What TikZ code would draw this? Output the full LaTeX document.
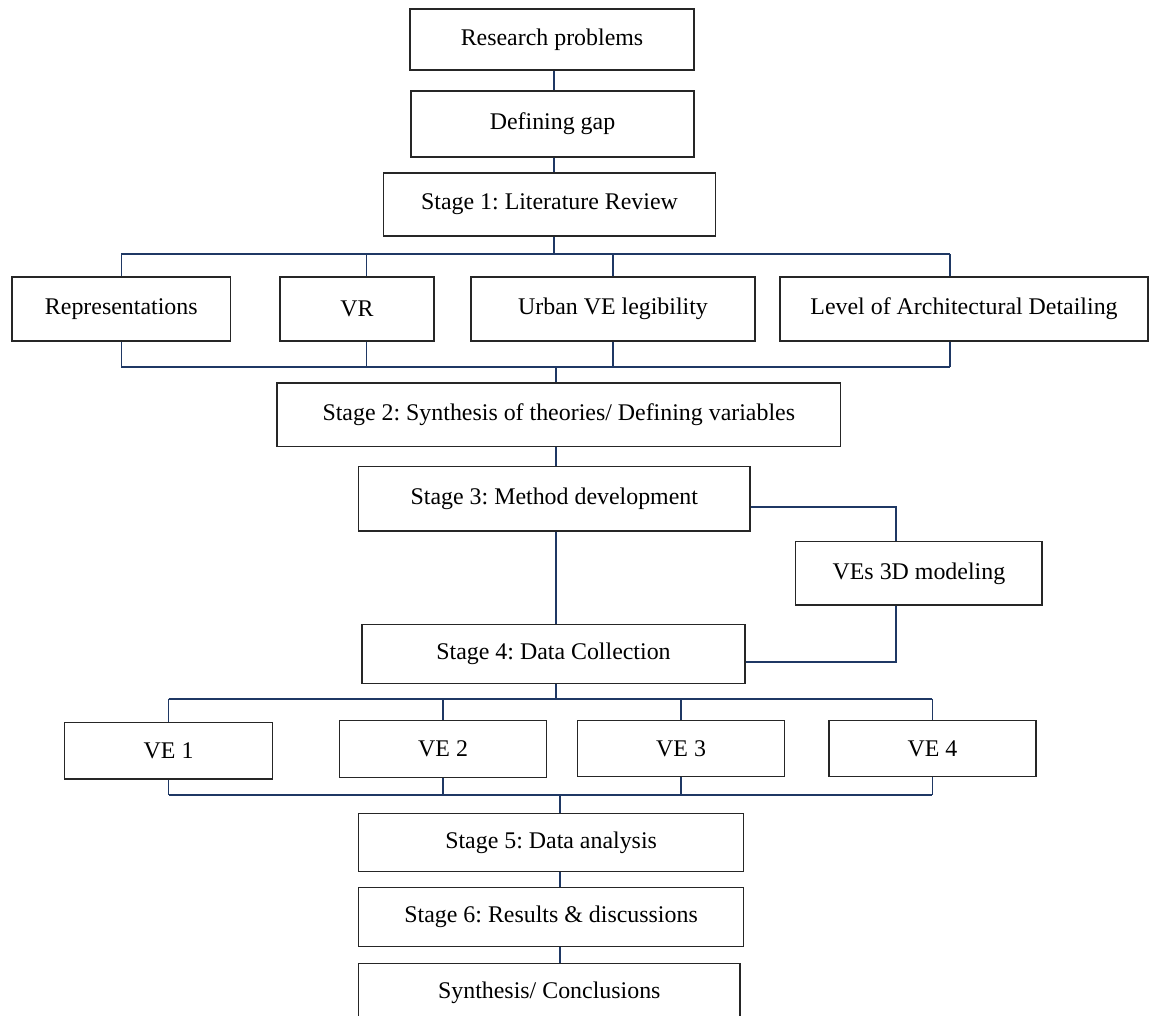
\documentclass[tikz,border=0pt]{standalone}
\usepackage{fontspec}
\setmainfont{Liberation Serif}
\usepackage{tikz}
\usetikzlibrary{calc}
\definecolor{navy}{RGB}{31,56,100}
\frenchspacing
\tikzstyle{block} = [draw=black!85, line width=0.8pt, rectangle, inner sep=0pt, align=center, font=\fontsize{13.6}{16}\selectfont]
\tikzstyle{link} = [draw=navy, line width=0.9pt]
\tikzstyle{bus} = [draw=navy, line width=1.3pt]

\begin{document}
\begin{tikzpicture}[x=0.02cm, y=-0.02cm]
            \useasboundingbox (0,0) rectangle (1152,1016);

            % main column
            \node[block, minimum width=5.68cm, minimum height=1.22cm] (rp) at (552,39.7) {Research problems};
            \node[block, minimum width=5.66cm, minimum height=1.32cm] (dg) at (552.5,124) {Defining gap};
            \node[block, minimum width=6.64cm, minimum height=1.26cm] (s1) at (549.5,204.5) {Stage 1: Literature Review};

            \node[block, minimum width=4.38cm, minimum height=1.28cm] (rep) at (121.3,309) {Representations};
            \node[block, minimum width=3.08cm, minimum height=1.28cm] (vr) at (357,309) {VR};
            \node[block, minimum width=5.68cm, minimum height=1.28cm] (uve) at (613,309) {Urban VE legibility};
            \node[block, minimum width=7.36cm, minimum height=1.28cm] (lad) at (964,309) {Level of Architectural Detailing};

            \node[block, minimum width=11.27cm, minimum height=1.27cm] (s2) at (558.8,414.8) {Stage 2: Synthesis of theories/ Defining variables};
            \node[block, minimum width=7.83cm, minimum height=1.29cm] (s3) at (554.3,498.8) {Stage 3: Method development};
            \node[block, minimum width=4.93cm, minimum height=1.27cm] (vm) at (918.9,573.3) {VEs 3D modeling};
            \node[block, minimum width=7.66cm, minimum height=1.18cm] (s4) at (553.5,653.8) {Stage 4: Data Collection};

            \node[block, minimum width=4.16cm, minimum height=1.13cm] (ve1) at (168.6,750.6) {VE 1};
            \node[block, minimum width=4.14cm, minimum height=1.13cm] (ve2) at (443.1,749) {VE 2};
            \node[block, minimum width=4.14cm, minimum height=1.11cm] (ve3) at (681.1,748.5) {VE 3};
            \node[block, minimum width=4.14cm, minimum height=1.11cm] (ve4) at (932.4,748.5) {VE 4};

            \node[block, minimum width=7.7cm, minimum height=1.17cm] (s5) at (551.1,842.5) {Stage 5: Data analysis};
            \node[block, minimum width=7.7cm, minimum height=1.18cm] (s6) at (551.1,917.2) {Stage 6: Results \& discussions};
            \node[block, minimum width=7.63cm, minimum height=1.18cm] (sc) at (549.3,992.7) {Synthesis/ Conclusions};

            % bus points
            \coordinate (spA) at (554,254);
            \coordinate (spB) at (556,366.7);
            \coordinate (spC) at (556,698.7);
            \coordinate (spD) at (560,795);

            \draw[link] (rp.south -| spA) -- (dg.north -| spA);
            \draw[link] (dg.south -| spA) -- (s1.north -| spA);
            \draw[link] (s1.south -| spA) -- (spA);

            \draw[bus] (rep.north |- spA) -- ([xshift=-8pt]lad.north |- spA);
            \draw[bus] (rep.south |- spB) -- ([xshift=-8pt]lad.south |- spB);
            \draw[link] (rep.north |- spA) -- (rep.north);
            \draw[link] ([xshift=5.4pt]vr.north |- spA) -- ([xshift=5.4pt]vr.north);
            \draw[link] (uve.north |- spA) -- (uve.north);
            \draw[link] ([xshift=-8pt]lad.north |- spA) -- ([xshift=-8pt]lad.north);
            \draw[link] (rep.south) -- (rep.south |- spB);
            \draw[link] ([xshift=5.4pt]vr.south) -- ([xshift=5.4pt]vr.south |- spB);
            \draw[link] (uve.south) -- (uve.south |- spB);
            \draw[link] ([xshift=-8pt]lad.south) -- ([xshift=-8pt]lad.south |- spB);

            \draw[link] (spB) -- (s2.north -| spB);
            \draw[link] (s2.south -| spB) -- (s3.north -| spB);
            \draw[link] (s3.south -| spB) -- (s4.north -| spB);

            % side branch
            \draw[link, line width=1.1pt] ([yshift=-4.8pt]s3.east) -| ([xshift=-12.8pt]vm.north);
            \draw[link, line width=1.1pt] ([xshift=-12.8pt]vm.south) |- ([yshift=-4.8pt]s4.east);

            \draw[link] (s4.south -| spC) -- (spC);
            \draw[bus] (ve1.north |- spC) -- (ve4.north |- spC);
            \draw[bus] (ve1.south |- spD) -- (ve4.south |- spD);
            \foreach \n in {ve1,ve2,ve3,ve4} {
              \draw[link] (\n.north |- spC) -- (\n.north);
              \draw[link] (\n.south) -- (\n.south |- spD);
            }

            \draw[link] (spD) -- (s5.north -| spD);
            \draw[link] (s5.south -| spD) -- (s6.north -| spD);
            \draw[link] (s6.south -| spD) -- (sc.north -| spD);
          \end{tikzpicture}
\end{document}
